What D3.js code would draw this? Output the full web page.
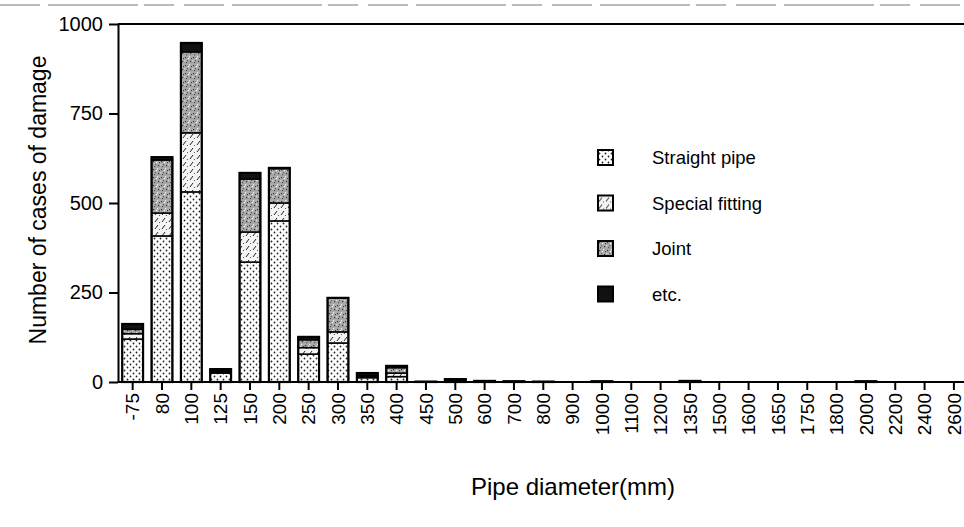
<!DOCTYPE html>
<html>
<head>
<meta charset="utf-8">
<script src="https://cdn.jsdelivr.net/npm/d3@7"></script>
<style>
  body { margin: 0; background: #fff; }
  svg { display: block; font-family: "Liberation Sans", Arial, sans-serif; }
</style>
</head>
<body>
<svg id="chart" width="964" height="527"></svg>
<script>
// pipe diameters (mm)
const categories = ["-75", "80", "100", "125", "150", "200", "250", "300", "350", "400",
  "450", "500", "600", "700", "800", "900", "1000", "1100", "1200", "1350",
  "1500", "1600", "1650", "1750", "1800", "2000", "2200", "2400", "2600"];

// damage counts per type
const straightPipe   = [120, 408, 531, 25, 335, 450, 78, 109, 12, 15, 1, 5, 2, 1, 1, 0, 1, 0, 0, 2, 0, 0, 0, 0, 0, 1, 0, 0, 0];
const specialFitting = [15, 64, 165, 3, 84, 50, 18, 31, 4, 10, 0, 2, 0, 0, 0, 0, 0, 0, 0, 0, 0, 0, 0, 0, 0, 0, 0, 0, 0];
const joint          = [12, 148, 226, 3, 148, 96, 22, 95, 2, 15, 0, 1, 1, 1, 0, 0, 1, 0, 0, 1, 0, 0, 0, 0, 0, 1, 0, 0, 0];
const etc            = [15, 8, 25, 5, 17, 2, 8, 0, 7, 5, 0, 0, 0, 0, 0, 0, 0, 0, 0, 0, 0, 0, 0, 0, 0, 0, 0, 0, 0];

const seriesNames = ["Straight pipe", "Special fitting", "Joint", "etc."];
const yTicks = [0, 250, 500, 750, 1000];

const svg = d3.select("#chart");
const mLeft = 118, mRight = 964, mTop = 24, mBottom = 382;

// patterns
const defs = svg.append("defs");
const pStraight = defs.append("pattern").attr("id", "pat-straight")
  .attr("patternUnits", "userSpaceOnUse").attr("width", 6).attr("height", 6);
pStraight.append("rect").attr("width", 6).attr("height", 6).attr("fill", "#fff");
pStraight.append("circle").attr("cx", 1.5).attr("cy", 1.5).attr("r", 0.9).attr("fill", "#222");
pStraight.append("circle").attr("cx", 4.5).attr("cy", 4.5).attr("r", 0.9).attr("fill", "#222");

const pSpecial = defs.append("pattern").attr("id", "pat-special")
  .attr("patternUnits", "userSpaceOnUse").attr("width", 7).attr("height", 7);
pSpecial.append("rect").attr("width", 7).attr("height", 7).attr("fill", "#f4f4f4");
pSpecial.append("line").attr("x1", 1).attr("y1", 5).attr("x2", 4).attr("y2", 1)
  .attr("stroke", "#222").attr("stroke-width", 1);
pSpecial.append("circle").attr("cx", 5.5).attr("cy", 5.5).attr("r", 0.6).attr("fill", "#444");

const pJoint = defs.append("pattern").attr("id", "pat-joint")
  .attr("patternUnits", "userSpaceOnUse").attr("width", 8).attr("height", 8);
pJoint.append("rect").attr("width", 8).attr("height", 8).attr("fill", "#a8a8a8");
[[1, 1, "#333"], [4, 2, "#fff"], [6, 5, "#333"], [2, 6, "#555"], [5, 0, "#eee"], [0, 4, "#ddd"], [7, 2, "#444"], [3, 4, "#666"]]
  .forEach(([px, py, c]) => pJoint.append("rect").attr("x", px).attr("y", py)
    .attr("width", 1.2).attr("height", 1.2).attr("fill", c));

const fills = ["url(#pat-straight)", "url(#pat-special)", "url(#pat-joint)", "#111"];

// scales
const x = d3.scaleBand().domain(categories)
  .range([mLeft, mLeft + categories.length * 29.33])
  .paddingInner(0.29).paddingOuter(0.145);
const y = d3.scaleLinear().domain([0, 1000]).range([mBottom, mTop]);

// stack
const rows = categories.map((c, i) => ({
  cat: c, s0: straightPipe[i], s1: specialFitting[i], s2: joint[i], s3: etc[i]
}));
const stacked = d3.stack().keys(["s0", "s1", "s2", "s3"])(rows);

// scan artifact line at top
svg.append("line").attr("x1", 0).attr("x2", mRight).attr("y1", 5).attr("y2", 5)
  .attr("stroke", "#777").attr("stroke-width", 1).attr("stroke-dasharray", "40,8,90,6,30,10");

svg.append("g").selectAll("g")
  .data(stacked)
  .join("g")
  .attr("fill", (d, i) => fills[i])
  .selectAll("rect")
  .data(d => d.filter(v => v[1] > v[0]))
  .join("rect")
  .attr("x", d => x(d.data.cat))
  .attr("width", x.bandwidth())
  .attr("y", d => y(d[1]))
  .attr("height", d => y(d[0]) - y(d[1]))
  .attr("stroke", "#000")
  .attr("stroke-width", 1.5);

// outline of whole bar
svg.append("g").selectAll("rect")
  .data(rows.filter(r => r.s0 + r.s1 + r.s2 + r.s3 > 0))
  .join("rect")
  .attr("x", d => x(d.cat))
  .attr("width", x.bandwidth())
  .attr("y", d => y(d.s0 + d.s1 + d.s2 + d.s3))
  .attr("height", d => mBottom - y(d.s0 + d.s1 + d.s2 + d.s3))
  .attr("fill", "none")
  .attr("stroke", "#000")
  .attr("stroke-width", 2.2);

// y axis
const yAxis = svg.append("g").attr("transform", `translate(${mLeft},0)`)
  .call(d3.axisLeft(y).tickValues(yTicks).tickSize(9).tickSizeOuter(0).tickFormat(d3.format("d")));
yAxis.select(".domain").attr("stroke-width", 2);
yAxis.selectAll(".tick line").attr("stroke-width", 2);
yAxis.selectAll("text").attr("font-size", 20).attr("fill", "#000").attr("x", -15);

// top frame line and x baseline
svg.append("line").attr("x1", mLeft).attr("x2", mRight).attr("y1", mTop).attr("y2", mTop)
  .attr("stroke", "#000").attr("stroke-width", 2);

const xAxis = svg.append("g").attr("transform", `translate(0,${mBottom})`)
  .call(d3.axisBottom(x).tickSize(8).tickSizeOuter(0));
xAxis.select(".domain").attr("d", `M${mLeft},0H${mRight}`).attr("stroke-width", 2);
xAxis.selectAll(".tick line").attr("stroke-width", 2);
xAxis.selectAll("text")
  .attr("font-size", 19)
  .attr("fill", "#000")
  .attr("text-anchor", "end")
  .attr("transform", "rotate(-90)")
  .attr("x", -11)
  .attr("y", 0)
  .attr("dy", "0.35em");

// axis titles
svg.append("text")
  .attr("transform", "translate(46,200) rotate(-90)")
  .attr("text-anchor", "middle")
  .attr("font-size", 23)
  .text("Number of cases of damage");
svg.append("text")
  .attr("x", 573).attr("y", 495)
  .attr("text-anchor", "middle")
  .attr("font-size", 24)
  .text("Pipe diameter(mm)");

// legend
const legend = svg.append("g").selectAll("g")
  .data(seriesNames)
  .join("g")
  .attr("transform", (d, i) => `translate(598,${158 + i * 45.5})`);
legend.append("rect")
  .attr("x", 0).attr("y", -8).attr("width", 15).attr("height", 15)
  .attr("fill", (d, i) => fills[i])
  .attr("stroke", "#000").attr("stroke-width", 2);
legend.append("text")
  .attr("x", 54).attr("y", 0).attr("dy", "0.35em")
  .attr("font-size", 18.5)
  .text(d => d);
</script>
</body>
</html>
